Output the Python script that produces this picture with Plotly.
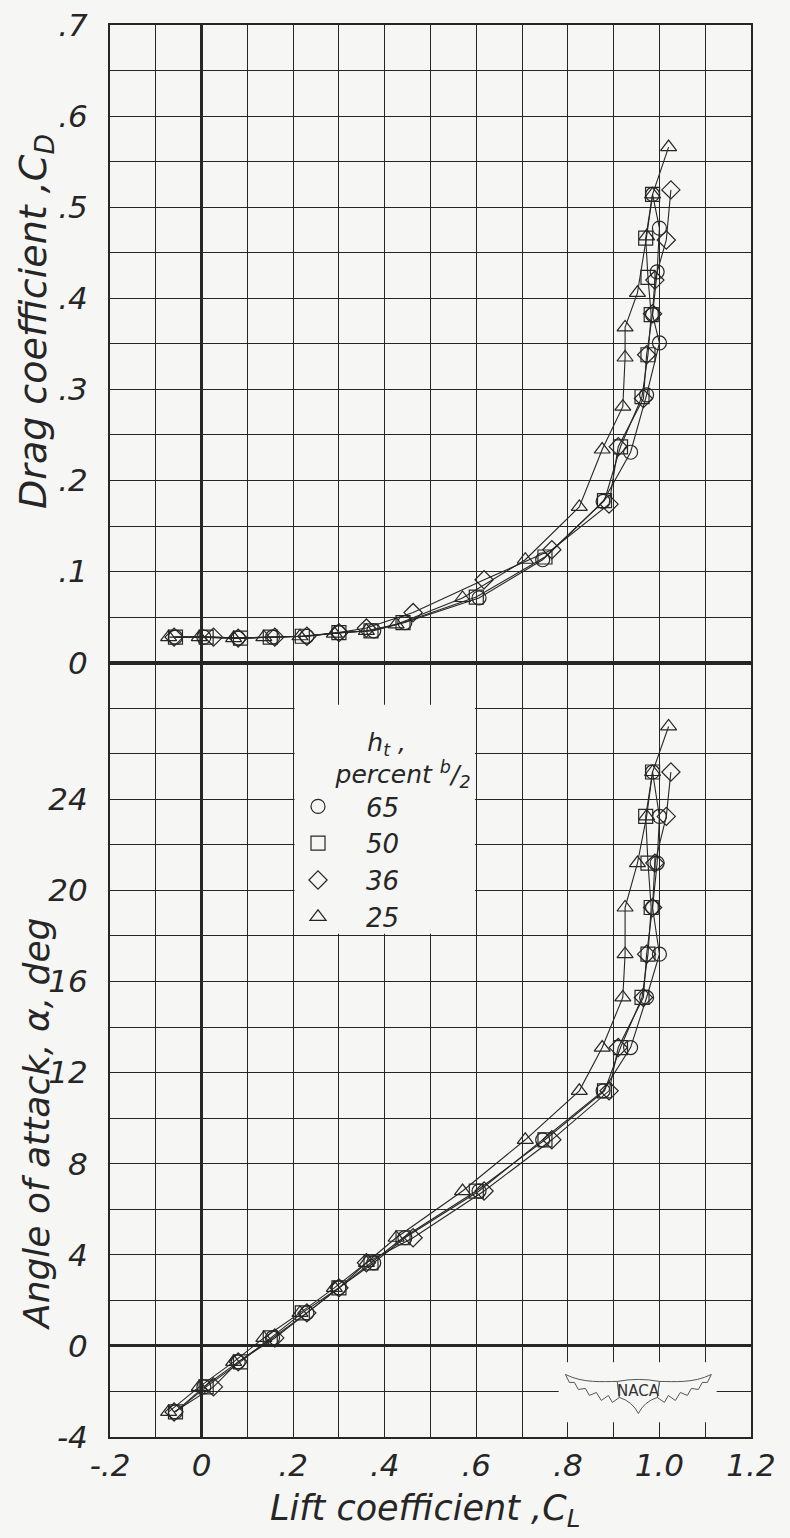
import numpy as np
import plotly.graph_objects as go
from plotly.subplots import make_subplots

# ---------------- data ----------------
series_names = ["65", "50", "36", "25"]
series_symbols = ["circle-open", "square-open", "diamond-open", "triangle-up-open"]

alpha_base = [-2.9, -1.8, -0.7, 0.35, 1.45, 2.55, 3.65, 4.75, 6.8, 9.05,
              11.2, 13.1, 15.3, 17.2, 19.25, 21.2, 23.25, 25.2]
alpha_25 = alpha_base + [27.2]

cl_65 = [-0.057, 0.005, 0.08, 0.155, 0.23, 0.30, 0.376, 0.444, 0.606, 0.745,
         0.877, 0.937, 0.972, 1.0, 0.985, 0.995, 1.0, 0.985]
cd_65 = [0.028, 0.028, 0.027, 0.028, 0.029, 0.033, 0.035, 0.044, 0.071, 0.113,
         0.177, 0.231, 0.294, 0.351, 0.382, 0.429, 0.477, 0.514]

cl_50 = [-0.057, 0.01, 0.085, 0.15, 0.22, 0.30, 0.37, 0.44, 0.60, 0.75,
         0.88, 0.915, 0.962, 0.975, 0.982, 0.975, 0.97, 0.985]
cd_50 = [0.028, 0.028, 0.027, 0.028, 0.029, 0.033, 0.035, 0.044, 0.072, 0.116,
         0.178, 0.237, 0.292, 0.338, 0.382, 0.423, 0.466, 0.514]

cl_36 = [-0.06, 0.026, 0.08, 0.16, 0.23, 0.30, 0.36, 0.462, 0.617, 0.765,
         0.89, 0.91, 0.965, 0.972, 0.985, 0.99, 1.015, 1.025]
cd_36 = [0.028, 0.028, 0.027, 0.028, 0.029, 0.033, 0.038, 0.055, 0.091, 0.124,
         0.174, 0.237, 0.29, 0.338, 0.383, 0.42, 0.464, 0.519]

cl_25 = [-0.072, -0.005, 0.07, 0.136, 0.215, 0.29, 0.36, 0.425, 0.57, 0.707,
         0.825, 0.875, 0.92, 0.925, 0.925, 0.952, 0.972, 0.985, 1.02]
cd_25 = [0.028, 0.028, 0.027, 0.028, 0.029, 0.032, 0.035, 0.042, 0.071, 0.113,
         0.171, 0.234, 0.281, 0.335, 0.368, 0.406, 0.468, 0.514, 0.566]

series_cl = [cl_65, cl_50, cl_36, cl_25]
series_cd = [cd_65, cd_50, cd_36, cd_25]
series_alpha = [alpha_base, alpha_base, alpha_base, alpha_25]

# tick labels (labelled ticks only; the finer grid comes from minor ticks)
x_tickvals = [-0.2, 0, 0.2, 0.4, 0.6, 0.8, 1.0, 1.2]
x_ticktext = ["-.2", "0", ".2", ".4", ".6", ".8", "1.0", "1.2"]
cd_tickvals = [0, 0.1, 0.2, 0.3, 0.4, 0.5, 0.6, 0.7]
cd_ticktext = ["0", ".1", ".2", ".3", ".4", ".5", ".6", ".7"]
a_tickvals = [-4, 0, 4, 8, 12, 16, 20, 24]
a_ticktext = ["-4", "0", "4", "8", "12", "16", "20", "24"]

# ---------------- style ----------------
INK = "#262626"
BG = "#f6f6f4"
FONT = "DejaVu Sans"

fig = make_subplots(rows=2, cols=1, shared_xaxes=True, vertical_spacing=0,
                    row_heights=[14 / 31, 17 / 31])

for name, sym, cl, cd, al in zip(series_names, series_symbols, series_cl,
                                  series_cd, series_alpha):
    mk = dict(symbol=sym, size=14, color=INK, line=dict(width=1.2, color=INK))
    ln = dict(color=INK, width=1.1)
    # drag polar (upper panel)
    fig.add_trace(go.Scatter(x=cl, y=cd, mode="lines+markers", name=name,
                             legendgroup=name, showlegend=False,
                             line=ln, marker=mk), row=1, col=1)
    # lift curve (lower panel): connecting line + symbols (symbols carry legend)
    fig.add_trace(go.Scatter(x=cl, y=al[:len(cl)], mode="lines", name=name,
                             legendgroup=name, showlegend=False, line=ln),
                  row=2, col=1)
    fig.add_trace(go.Scatter(x=cl, y=al[:len(cl)], mode="markers", name=name,
                             legendgroup=name, showlegend=True, marker=mk),
                  row=2, col=1)

tickfont = dict(family=FONT, size=31, color=INK, style="italic")
axis_common = dict(showgrid=True, gridcolor=INK, gridwidth=1.3, showline=True,
                   linecolor=INK, linewidth=2, mirror=True, ticks="",
                   tickfont=tickfont, automargin=False)


def minor(step, start):
    return dict(dtick=step, tick0=start, showgrid=True, gridcolor=INK,
                gridwidth=1.3, ticks="")


fig.update_xaxes(range=[-0.2, 1.2], tickmode="array", tickvals=x_tickvals,
                 ticktext=x_ticktext, zeroline=True, zerolinecolor=INK,
                 zerolinewidth=3, ticklabelstandoff=0, minor=minor(0.1, 0),
                 **axis_common)
fig.update_yaxes(range=[0, 0.7], tickmode="array", tickvals=cd_tickvals,
                 ticktext=cd_ticktext, zeroline=False, ticklabelstandoff=14,
                 minor=minor(0.05, 0), row=1, col=1, **axis_common)
fig.update_yaxes(range=[-4, 30], tickmode="array", tickvals=a_tickvals,
                 ticktext=a_ticktext, zeroline=True, zerolinecolor=INK,
                 zerolinewidth=3, ticklabelstandoff=14, minor=minor(2, 0),
                 row=2, col=1, **axis_common)

shapes = []
# thick CD = 0 line
shapes.append(dict(type="line", xref="paper", yref="y", x0=0, x1=1, y0=0, y1=0,
                   line=dict(color=INK, width=3), layer="between"))
# legend background (clears grid)
shapes.append(dict(type="rect", xref="x2", yref="y2", x0=0.203, x1=0.597,
                   y0=18.1, y1=28.15, fillcolor=BG, line=dict(width=0),
                   layer="between"))
# NACA logo clearing
shapes.append(dict(type="rect", xref="x2", yref="y2", x0=0.78, x1=1.125,
                   y0=-3.35, y1=-0.72, fillcolor=BG, line=dict(width=0),
                   layer="between"))

# NACA logo outline (decoration) built in pixel offsets around its centre
cx, cy = 0.954, -2.0
PX_X, PX_Y = 458.0, 22.75


def pt(dx, dy):
    return f"{cx + dx / PX_X:.4f},{cy - dy / PX_Y:.4f}"


def path(cmds):
    return " ".join(c if isinstance(c, str) else pt(*c) for c in cmds)


def wing(s):
    return path(["M", (s * -73, -17), "C", (s * -55, -8), (s * -36, -10), (s * -21, -10),
                 "L", (s * -19, 6), "L", (s * -26, 11), "L", (s * -30, 4),
                 "L", (s * -37, 9), "L", (s * -42, 1), "L", (s * -49, 4),
                 "L", (s * -53, -3), "L", (s * -60, -2), "L", (s * -64, -9),
                 "L", (s * -69, -9), "Z"])


shield = path(["M", (-21, -10), "Q", (0, -14), (21, -10), "L", (19, 6),
               "Q", (6, 10), (0, 22), "Q", (-6, 10), (-19, 6), "Z"])
for p in (wing(1), wing(-1), shield):
    shapes.append(dict(type="path", xref="x2", yref="y2", path=p,
                       line=dict(color="#555", width=1), fillcolor=BG,
                       layer="above"))

annotations = [
    dict(text="Drag coefficient ,C<sub>D</sub>", xref="paper", yref="paper",
         x=(36 - 110) / 641, y=(1437 - 322) / 1412, textangle=-90, showarrow=False,
         xanchor="center", yanchor="middle",
         font=dict(family=FONT, size=38, color=INK, style="italic")),
    dict(text="Angle of attack, α, deg", xref="paper", yref="paper",
         x=(36 - 110) / 641, y=(1437 - 1124) / 1412, textangle=-90, showarrow=False,
         xanchor="center", yanchor="middle",
         font=dict(family=FONT, size=36, color=INK, style="italic")),
    dict(text="Lift coefficient ,C<sub>L</sub>", xref="paper", yref="paper",
         x=(425 - 110) / 641, y=(1437 - 1510) / 1412, showarrow=False,
         xanchor="center", yanchor="middle",
         font=dict(family=FONT, size=35, color=INK, style="italic")),
    dict(text="NACA", xref="x2", yref="y2", x=cx, y=cy, showarrow=False,
         font=dict(family=FONT, size=15, color="#333")),
]

NB = "&nbsp;"
fig.update_layout(
    width=790, height=1538,
    margin=dict(l=110, r=39, t=25, b=101),
    paper_bgcolor=BG, plot_bgcolor=BG,
    shapes=shapes, annotations=annotations,
    showlegend=True,
    legend=dict(
        x=(270 - 110) / 641, y=(1437 - 718) / 1412, xanchor="left", yanchor="top",
        bgcolor="rgba(0,0,0,0)", borderwidth=0,
        font=dict(family=FONT, size=26, color=INK, style="italic"),
        title=dict(text=NB * 12 + "h<sub>t</sub> ,<br>" +
                        NB * 8 + "percent <sup>b</sup>/<sub>2</sub>",
                   side="top",
                   font=dict(family=FONT, size=25, color=INK, style="italic")),
        itemwidth=86, tracegroupgap=0,
    ),
)

fig.write_html("out.html", config={"displayModeBar": False},
               post_script="document.body.style.margin='0';document.body.style.padding='0';")
